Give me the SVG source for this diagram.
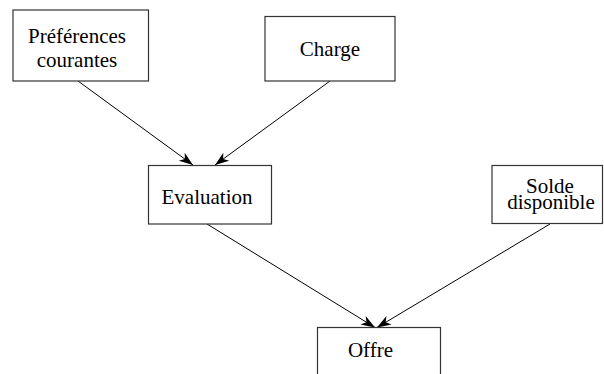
<svg xmlns="http://www.w3.org/2000/svg" width="604" height="374" viewBox="0 0 604 374">
<style>
.box{fill:#fff;stroke:#333;stroke-width:1.2}
.t{font-family:"Liberation Serif","Times New Roman",serif;font-size:21px;fill:#000;text-anchor:middle}
.c{stroke:#000;stroke-width:1;fill:none;marker-end:url(#ah)}
</style>
<defs>
<marker id="ah" markerUnits="userSpaceOnUse" markerWidth="16" markerHeight="12" refX="14" refY="5" orient="auto" viewBox="0 0 16 10">
<path d="M0,0 L14,5 L0,10 L4,5 z" fill="#000"/>
</marker>
</defs>
<g id="connectors">
<line class="c" x1="78" y1="81" x2="193" y2="165"/>
<line class="c" x1="330" y1="81" x2="215" y2="165"/>
<line class="c" x1="207" y1="224" x2="375" y2="327.5"/>
<line class="c" x1="550" y1="224" x2="377" y2="327.5"/>
</g>
<g id="n_preferences">
<rect class="box" x="13" y="10" width="135.5" height="71"/>
<text class="t" x="77" y="43">Préférences</text>
<text class="t" x="77" y="67">courantes</text>
</g>
<g id="n_charge">
<rect class="box" x="265" y="16.5" width="130" height="64.5"/>
<text class="t" x="330" y="56">Charge</text>
</g>
<g id="n_evaluation">
<rect class="box" x="148.5" y="165.5" width="123" height="58.5"/>
<text class="t" x="207" y="204">Evaluation</text>
</g>
<g id="n_solde">
<rect class="box" x="492" y="165.5" width="110.5" height="58"/>
<text class="t" x="550" y="192.5">Solde</text>
<text class="t" x="551" y="209">disponible</text>
</g>
<g id="n_offre">
<rect class="box" x="317.5" y="327.5" width="123" height="60"/>
<text class="t" x="370.5" y="357">Offre</text>
</g>
</svg>
